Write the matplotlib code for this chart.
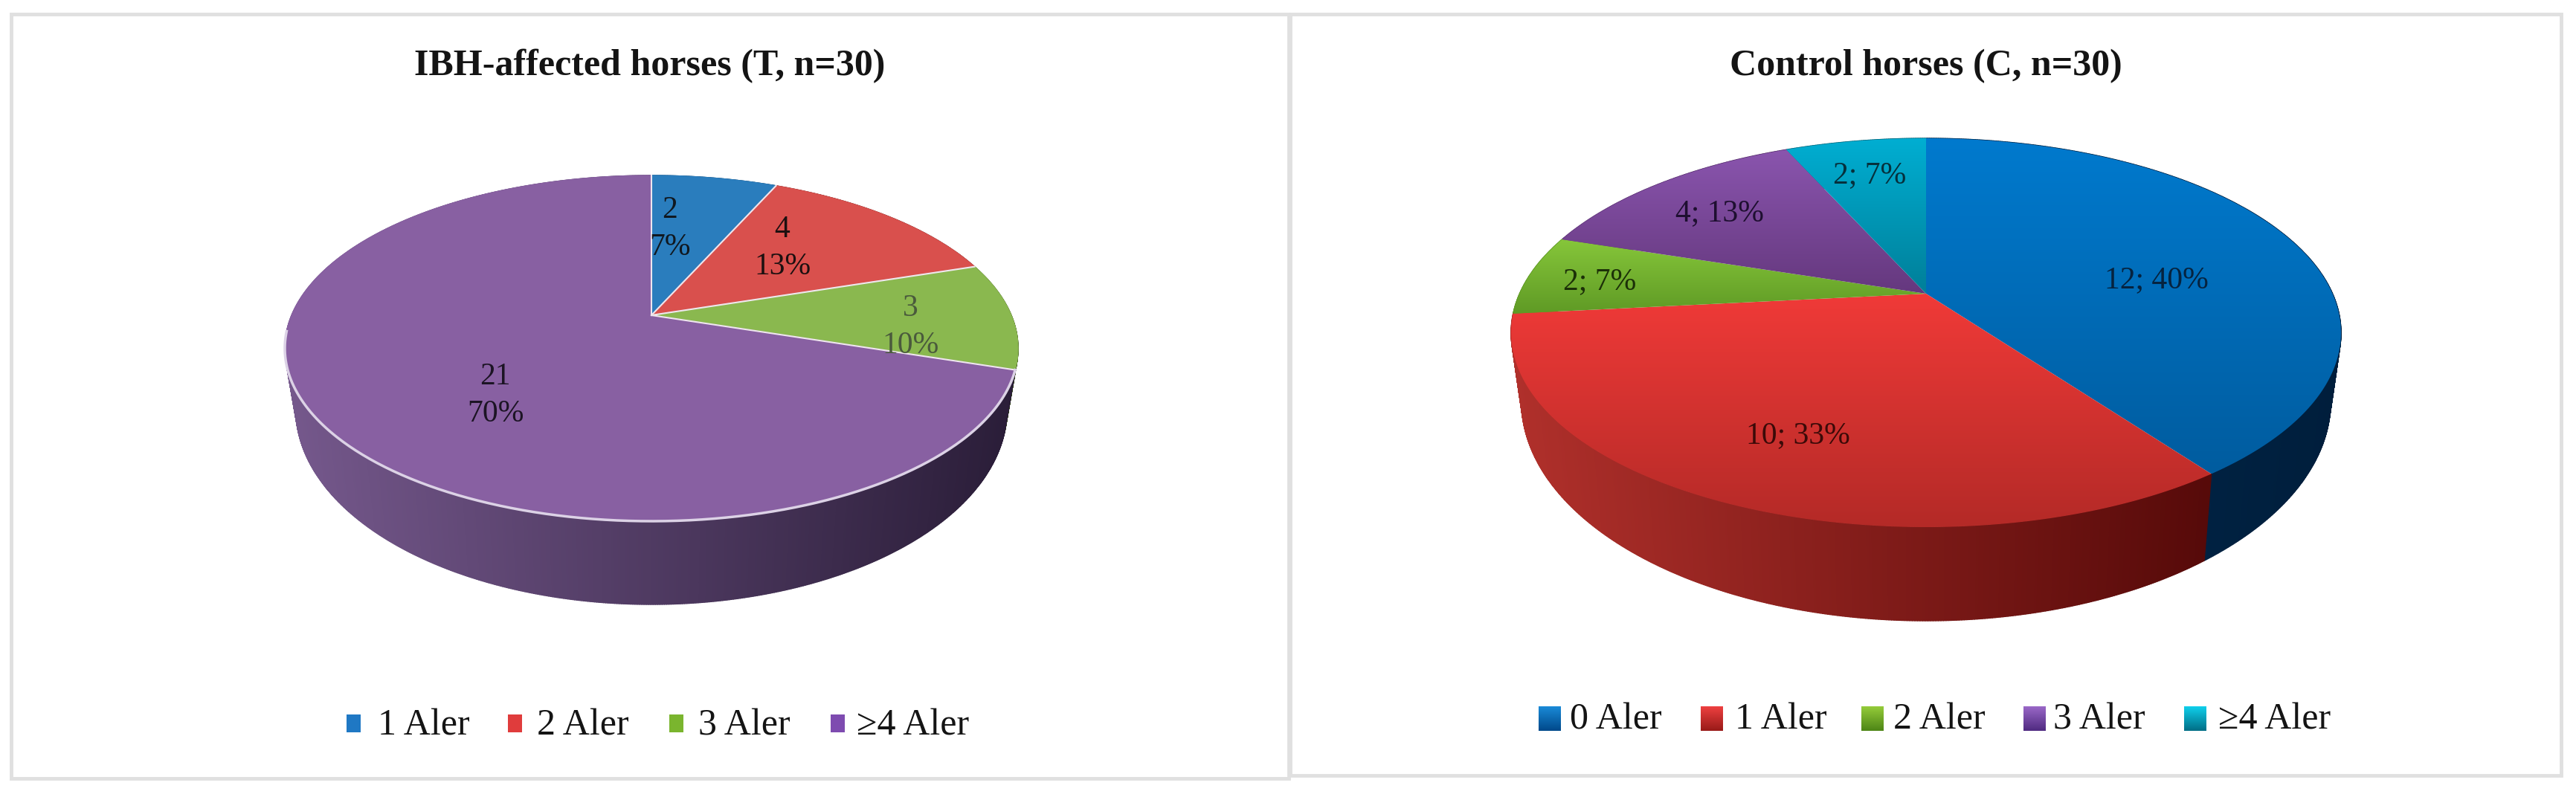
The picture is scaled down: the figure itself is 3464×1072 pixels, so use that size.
import numpy as np
import matplotlib
matplotlib.use("Agg")
import matplotlib.pyplot as plt
from matplotlib.colors import LinearSegmentedColormap as LSC
from matplotlib.patches import Polygon, Rectangle
from matplotlib.collections import PolyCollection

W, H = 3464, 1072
plt.rcParams['font.family'] = ['Liberation Serif', 'DejaVu Serif']

# ---------- data ----------
left_title = "IBH-affected horses (T, n=30)"
left_categories = ["1 Aler", "2 Aler", "3 Aler", "≥4 Aler"]
left_values = [2, 4, 3, 21]

right_title = "Control horses (C, n=30)"
right_categories = ["0 Aler", "1 Aler", "2 Aler", "3 Aler", "≥4 Aler"]
right_values = [12, 10, 2, 4, 2]

# ---------- style ----------
left_top = ["#2a7dbd", "#d9504d", "#8ab84f", "#8860a2"]
left_side = [("#1d5a8a", "#0f3050"), ("#8a2f2d", "#4a1514"), ("#5f7f33", "#303f18"), ("#75588c", "#2a1d38")]
left_legend = ["#1f78c4", "#e03c3c", "#7ab52e", "#7e4bb0"]

right_top = [("#007ace", "#005c9f"), ("#f03a38", "#b42a27"), ("#86c63a", "#5f9a25"),
             ("#8a55ae", "#65387e"), ("#00aed2", "#007f99")]
right_side = [("#00345e", "#001e3c"), ("#b0302b", "#460303"), ("#5f9a25", "#2f4f10"),
              ("#65387e", "#33193f"), ("#007f99", "#003f4d")]
right_legend = [("#1a8ad8", "#00498a"), ("#ee4040", "#981a18"), ("#95cc3a", "#4d8516"),
                ("#9a68c8", "#4f2a80"), ("#10d0ec", "#006d85")]

fig = plt.figure(figsize=(W / 100, H / 100), dpi=100, facecolor="white")
ax = fig.add_axes([0, 0, 1, 1])
ax.set_axis_off()


class Disk:
    """Perspective projection of the pie: angle runs clockwise from 12 o'clock."""
    def __init__(self, cx, top, apex, bottom, half_w, depth, shrink, stretch):
        self.cx, self.depth, self.shrink, self.stretch = cx, depth, shrink, stretch
        self.c = (2 * apex - bottom - top) / (bottom - top)
        self.apex = apex
        self.b = bottom * (1 + self.c) - apex
        self.X = half_w * np.sqrt(1 - self.c ** 2)
        self.yc = (top + bottom) / 2
        self.bottom = bottom

    def top(self, theta, r=1.0):
        u, v = r * np.sin(theta), -r * np.cos(theta)
        d = 1 + self.c * v
        return self.cx + self.X * u / d, (self.apex + self.b * v) / d

    def base(self, theta):
        x, y = self.top(theta)
        off = self.bottom + self.depth - (self.yc + (self.bottom - self.yc) * self.stretch)
        return self.cx + (x - self.cx) * self.shrink, self.yc + (y - self.yc) * self.stretch + off


def vgrad(poly_xy, c0, c1, zorder):
    """fill a polygon with a vertical gradient"""
    xs, ys = poly_xy[:, 0], poly_xy[:, 1]
    cm = LSC.from_list("g", [c0, c1])
    im = ax.imshow(np.linspace(0, 1, 256)[:, None], cmap=cm, aspect="auto", zorder=zorder,
                   extent=[xs.min(), xs.max(), ys.max(), ys.min()], interpolation="bilinear")
    p = Polygon(poly_xy, closed=True, transform=ax.transData)
    im.set_clip_path(p)


def draw_pie(disk, values, tops, sides, edge=None, rim=None):
    total = sum(values)
    edges = np.cumsum([0] + list(values)) / total * 2 * np.pi
    # side wall, gradient by horizontal position; painted back to front
    items = []
    for k in range(len(values)):
        t = np.linspace(edges[k], edges[k + 1], max(8, int(values[k] * 40)))
        cm = LSC.from_list("s", list(sides[k]))
        xa, ya = disk.top(t)
        xb, yb = disk.base(t)
        for i in range(len(t) - 1):
            q = [(xa[i], ya[i]), (xa[i + 1], ya[i + 1]), (xb[i + 1], yb[i + 1]), (xb[i], yb[i])]
            frac = (xa[i] - (disk.cx - disk.X * 1.02)) / (2.04 * disk.X)
            items.append((ya[i], q, cm(np.clip(frac, 0, 1))))
    items.sort(key=lambda it: it[0])
    cols = [it[2] for it in items]
    ax.add_collection(PolyCollection([it[1] for it in items], facecolors=cols, edgecolors=cols,
                                     linewidths=1, zorder=2))
    # top faces
    ax_, ay_ = disk.top(0.0, 0.0)
    for k in range(len(values)):
        t = np.linspace(edges[k], edges[k + 1], 200)
        xr, yr = disk.top(t)
        poly = np.column_stack([np.r_[ax_, xr], np.r_[ay_, yr]])
        if isinstance(tops[k], tuple):
            vgrad(poly, tops[k][0], tops[k][1], 3)
        else:
            ax.add_patch(Polygon(poly, closed=True, fc=tops[k], ec=tops[k], lw=1, zorder=3))
    if edge:
        for e in edges[:-1]:
            xe, ye = disk.top(e)
            ax.plot([ax_, xe], [ay_, ye], color=edge, lw=1.5, zorder=4)
    if rim:
        t = np.linspace(edges[-2], 1.47 * np.pi, 300)
        xr, yr = disk.top(t)
        ax.plot(xr, yr, color=rim, lw=2.5, zorder=5)


def box(x0, y0, x1, y1):
    ax.add_patch(Rectangle((x0, y0), x1 - x0, y1 - y0, fc="white", ec="#e0e0e0", lw=3.5, zorder=1))


def legend_item(x0, w, y0, h, color, x_text, y_text, text):
    if isinstance(color, tuple):
        poly = np.array([(x0, y0), (x0 + w, y0), (x0 + w, y0 + h), (x0, y0 + h)])
        vgrad(poly, color[0], color[1], 3)
    else:
        ax.add_patch(Rectangle((x0, y0), w, h, fc=color, ec="none", zorder=3))
    ax.text(x_text, y_text, text, fontsize=36, color="#141414", ha="left", va="center", zorder=6)


box(15, 19, 1733, 1047)
box(1735, 19, 3444, 1043)

# ---------- left ----------
d1 = Disk(cx=876, top=236, apex=424, bottom=701, half_w=493, depth=112, shrink=0.97, stretch=1.13)
draw_pie(d1, left_values, left_top, left_side, edge="#efe6ee", rim="#dcd2e6")
ax.text(874, 89, left_title, fontsize=36, fontweight="bold", ha="center", va="center", color="#141414", zorder=6)
left_label_xy = [(901, 308), (1052, 334), (1224, 440), (666, 532)]
left_label_colors = ["#101820", "#1c1010", "#4a5a3c", "#1c1424"]
for v, (x, y), c in zip(left_values, left_label_xy, left_label_colors):
    ax.text(x, y, f"{v}\n{round(100 * v / sum(left_values))}%", fontsize=30, color=c,
            ha="center", va="center", linespacing=1.4, zorder=6)
for name, mx, tx, c in zip(left_categories, [466, 683, 900, 1117], [508, 722, 939, 1152], left_legend):
    legend_item(mx, 19, 961, 24, c, tx, 976, name)

# ---------- right ----------
d2 = Disk(cx=2590, top=186, apex=395, bottom=709, half_w=558, depth=126, shrink=0.975, stretch=1.13)
draw_pie(d2, right_values, right_top, right_side)
ax.text(2590, 89, right_title, fontsize=36, fontweight="bold", ha="center", va="center", color="#141414", zorder=6)
right_label_xy = [(2900, 377), (2418, 586), (2151, 379), (2312, 287), (2514, 236)]
right_label_colors = ["#06233f", "#3c0a08", "#1c3008", "#1e0f30", "#06303c"]
for v, (x, y), c in zip(right_values, right_label_xy, right_label_colors):
    ax.text(x, y, f"{v}; {round(100 * v / sum(right_values))}%", fontsize=30, color=c,
            ha="center", va="center", zorder=6)
for name, mx, tx, c in zip(right_categories, [2069, 2287, 2503, 2721, 2937],
                           [2111, 2333, 2546, 2761, 2983], right_legend):
    legend_item(mx, 30, 950, 33, c, tx, 968, name)

ax.set_xlim(0, W)
ax.set_ylim(H, 0)
fig.savefig("out.png", dpi=100, facecolor="white")
